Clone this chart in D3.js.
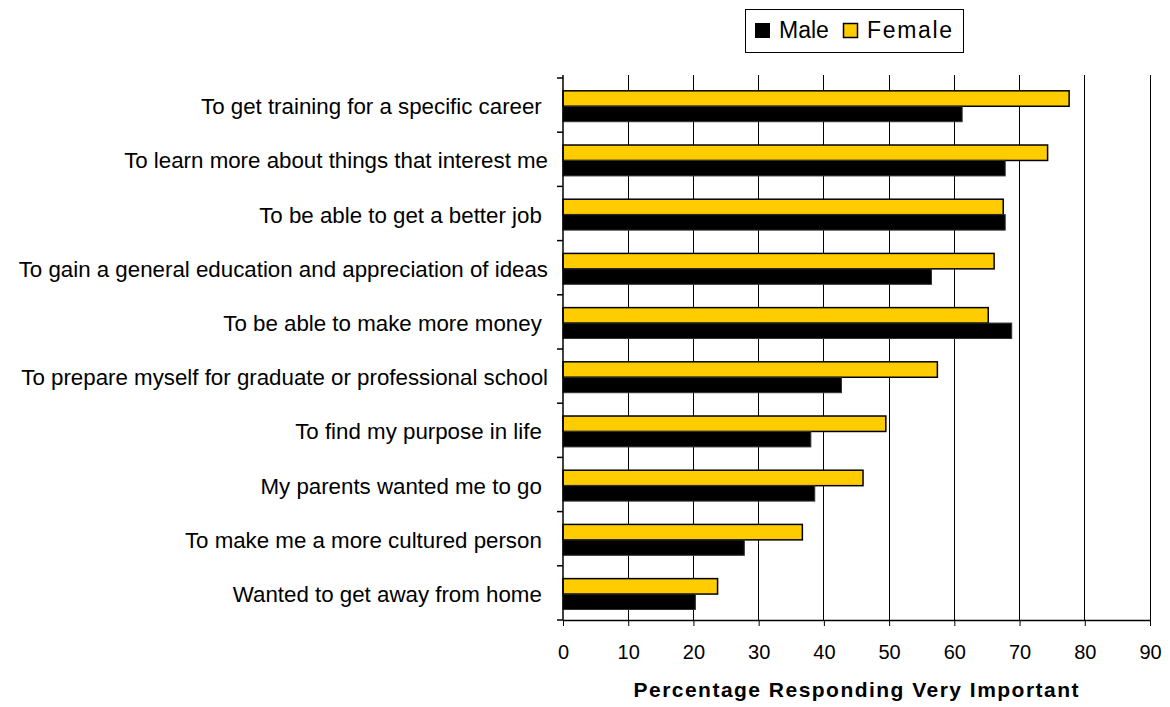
<!DOCTYPE html>
<html><head><meta charset="utf-8">
<script src="https://cdn.jsdelivr.net/npm/d3@7"></script>
<style>body{margin:0;background:#fff}svg{font-family:"Liberation Sans",Arial,sans-serif}</style>
</head><body><svg id="c" width="1170" height="707"></svg>
<script>
const categories = [
  "To get training for a specific career ",
  "To learn more about things that interest me",
  "To be able to get a better job ",
  "To gain a general education and appreciation of ideas",
  "To be able to make more money ",
  "To prepare myself for graduate or professional school",
  "To find my purpose in life ",
  "My parents wanted me to go ",
  "To make me a more cultured person ",
  "Wanted to get away from home "
];
const male   = [61.2, 67.8, 67.8, 56.5, 68.8, 42.7, 38.0, 38.6, 27.8, 20.3];
const female = [77.6, 74.3, 67.5, 66.1, 65.2, 57.4, 49.5, 46.0, 36.7, 23.7];
const xTicks = [0,10,20,30,40,50,60,70,80,90];
const seriesNames = ["Male","Female"];
const colors = {Male:"#000000", Female:"#FFCC00"};

(function(){
const svg = d3.select("#c");
const pl = 563, pr = 1150, pt = 78, pb = 620;
const x = d3.scaleLinear().domain([0,90]).range([pl,pr]);
const y = d3.scaleBand().domain(categories).range([pt,pb]).paddingInner(0.43).paddingOuter(0.215).align(0.55);
const sub = d3.scaleBand().domain(seriesNames).range([0,y.bandwidth()]);

svg.append("g").selectAll("line").data(xTicks.slice(1)).join("line")
  .attr("x1",d=>x(d)).attr("x2",d=>x(d)).attr("y1",pt-3).attr("y2",pb)
  .attr("stroke","#000").attr("stroke-width",1).attr("shape-rendering","crispEdges");

const g = svg.append("g");
categories.forEach((c,i)=>{
  g.append("rect").attr("x",x(0)).attr("y",y(c))
   .attr("width",x(female[i])-x(0)).attr("height",sub.bandwidth())
   .attr("fill",colors.Female).attr("stroke","#000").attr("stroke-width",1.5);
  g.append("rect").attr("x",x(0)).attr("y",y(c)+sub.bandwidth())
   .attr("width",x(male[i])-x(0)).attr("height",sub.bandwidth())
   .attr("fill",colors.Male).attr("stroke","#333").attr("stroke-width",1);
});

const xa = svg.append("g").attr("transform",`translate(0,${pb})`)
  .call(d3.axisBottom(x).tickValues(xTicks).tickSize(6).tickSizeOuter(0).tickPadding(19));
xa.select(".domain").attr("stroke","#000").attr("stroke-width",1.5);
xa.selectAll("line").attr("stroke","#000");
xa.selectAll("text").attr("font-size",20).attr("fill","#000").attr("font-family","Liberation Sans, Arial, sans-serif");

const step = (pb-pt)/categories.length;
const ya = svg.append("g");
ya.append("line").attr("x1",pl).attr("x2",pl).attr("y1",pt-3).attr("y2",pb).attr("stroke","#000").attr("stroke-width",1.5);
ya.selectAll("line.t").data(d3.range(categories.length+1)).join("line").attr("class","t")
  .attr("x1",pl-6).attr("x2",pl).attr("y1",i=>pt+i*step).attr("y2",i=>pt+i*step)
  .attr("stroke","#000").attr("stroke-width",1.5);
ya.selectAll("text").data(categories).join("text")
  .attr("x",548).attr("y",d=>y(d)+y.bandwidth()/2).attr("dy","0.36em")
  .attr("text-anchor","end").attr("font-size",22.3).attr("fill","#000")
  .style("white-space","pre").text(d=>d);

svg.append("text").attr("x",856).attr("y",697).attr("text-anchor","middle")
  .attr("font-size",21).attr("font-weight","bold")
  .attr("textLength",445).attr("lengthAdjust","spacing")
  .text("Percentage Responding Very Important");

const lg = svg.append("g");
lg.append("rect").attr("x",745.5).attr("y",9.5).attr("width",218).attr("height",43).attr("fill","#fff").attr("stroke","#000");
lg.append("rect").attr("x",755).attr("y",23).attr("width",15).attr("height",15).attr("fill",colors.Male);
lg.append("text").attr("x",779).attr("y",38).attr("font-size",23).text(seriesNames[0]);
lg.append("rect").attr("x",843.5).attr("y",23.5).attr("width",14).attr("height",14).attr("fill",colors.Female).attr("stroke","#000").attr("stroke-width",1.5);
lg.append("text").attr("x",867).attr("y",38).attr("font-size",23).attr("textLength",85).attr("lengthAdjust","spacing").text(seriesNames[1]);
})();
</script></body></html>
